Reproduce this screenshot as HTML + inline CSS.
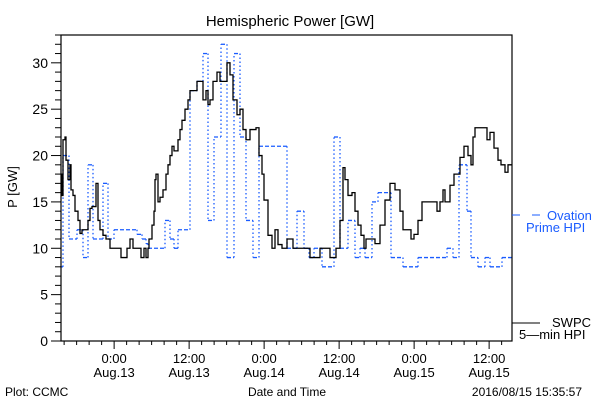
<!DOCTYPE html>
<html><head><meta charset="utf-8"><style>
body{margin:0;background:#fff;}
svg{display:block;font-family:"Liberation Sans",sans-serif;}
</style></head><body>
<svg id="chart" width="600" height="400" viewBox="0 0 600 400" xmlns="http://www.w3.org/2000/svg">
<rect width="600" height="400" fill="#fff"/>
<text x="290" y="26" font-size="15" text-anchor="middle" fill="#000">Hemispheric Power [GW]</text>
<g id="axes"></g>
<g id="series"></g>
<rect x="61" y="35" width="451" height="306" fill="none" stroke="#000" stroke-width="1.2"/>
<text transform="translate(17,187) rotate(-90)" font-size="13" text-anchor="middle">P [GW]</text>
<text x="287" y="396" font-size="12" text-anchor="middle">Date and Time</text>
<text x="5" y="396" font-size="12">Plot: CCMC</text>
<text x="582" y="396" font-size="12" text-anchor="end">2016/08/15 15:35:57</text>
<g>
<line x1="512" y1="215" x2="520" y2="215" stroke="#1a5cff" stroke-width="1"/>
<line x1="532" y1="215" x2="540" y2="215" stroke="#1a5cff" stroke-width="1"/>
<text x="547" y="220" font-size="13" fill="#1a5cff">Ovation</text>
<text x="526" y="232" font-size="13" fill="#1a5cff">Prime HPI</text>
</g>
<g>
<line x1="512" y1="323" x2="540" y2="323" stroke="#000" stroke-width="1"/>
<text x="552" y="327" font-size="13">SWPC</text>
<text x="519" y="339" font-size="13">5—min HPI</text>
</g>
</svg>
<script>
// hours since Aug 12 15:30
const swpcHours=[0,0.16,0.32,0.64,0.8,1.12,1.44,1.6,1.92,2.24,2.72,3.04,3.36,3.84,4.32,4.64,4.96,5.6,5.92,6.24,6.72,7.2,7.84,9.28,9.6,10.4,10.56,11.04,11.52,12.64,12.8,13.28,13.6,13.92,14.08,14.56,14.88,15.04,15.2,15.52,15.84,16.32,16.8,17.12,17.44,17.76,18.08,18.4,18.72,19.04,19.36,19.84,20.32,20.64,21.76,22.4,22.72,23.2,23.52,23.84,24.32,24.96,25.44,26.56,27.04,27.52,28.16,28.64,29.12,29.6,30.24,31.2,31.68,32.16,32.48,33.12,33.76,34.24,34.72,35.36,36.16,36.8,37.12,38.24,39.84,41.44,43.04,44,44.32,44.64,45.12,45.44,45.92,46.56,47.04,47.52,48,48.48,48.8,49.76,50.24,51.04,51.84,52.64,53.44,54.24,54.72,56,56.48,57.12,57.76,59.84,60.16,60.64,61.12,61.44,62.24,62.88,63.84,64.48,65.12,65.6,65.92,66.24,67.68,68.16,68.64,69.28,69.92,70.4,71.04,71.52,72.16];
const swpcValues=[18,15.7,21.7,22,19.5,17.4,19,16.3,15.7,14,13,11.6,12,12,13,14.3,14.5,17,13,12,11.4,11,10,10,9,9,10,11,10,10,9,10,9,10,11,12.5,14,17.4,18,15,15.5,16.3,18,19,20,21,20.5,20.5,21.7,22.8,23.8,25,26,27,28,28,26,27,25.5,26,28,29,28,30,28.7,26,24.4,25,22.8,21.7,22.8,23,20,18,15.2,11.4,10,12,10.4,10,11,11,10,10,9,10,9,10,10,13,18.7,17.4,15.7,16,14,12.5,11.4,10,11,11,10.5,12.5,15.2,17,16.3,14,12,11,11.5,13,15,15,14,15,16.3,15,16.8,18,19.8,21,20,19,22,23,23,21.7,22.5,20.8,19.5,19,18.2,19,19];
const ovationHours=[0,0.32,1.28,2.56,3.52,4.32,5.12,6.72,7.52,8.48,12.16,12.96,13.6,13.92,16.64,17.44,18.08,18.72,20.64,21.76,22.72,23.52,24.48,25.6,26.56,27.68,28.64,29.6,30.72,31.68,36.16,37.76,38.88,39.68,40.48,41.76,43.68,44.64,45.92,47.04,47.84,48.64,49.76,50.72,52.8,54.72,57.12,61.76,62.72,63.68,64.96,65.6,66.72,67.84,68.64,70.56];
const ovationValues=[8,20,11,12,9,19,11,17,11,12,11.5,11,10.5,10,13,11,10,12,27,28,31,13,22,32,9,31,22,13,9,21,10,14,10,9,10,8,22,10,13,9,10,9,15,16,9,8,9,10,9,19,14,9,8,9,8,9];
const yTickLabels=["0","5","10","15","20","25","30"];
const yTickValues=[0,5,10,15,20,25,30];
const xTickHours=[8.5,20.5,32.5,44.5,56.5,68.5];
const xTickTimes=["0:00","12:00","0:00","12:00","0:00","12:00"];
const xTickDates=["Aug.13","Aug.13","Aug.14","Aug.14","Aug.15","Aug.15"];
const END_H=72.16;

const NS="http://www.w3.org/2000/svg";
const X0=61,X1=512,Y0=341,YT=35,YMAX=33;
const xs=h=>X0+(X1-X0)*h/END_H;
const ys=v=>Y0-(Y0-YT)*v/YMAX;
function mk(tag,attrs,parent){const e=document.createElementNS(NS,tag);for(const k in attrs)e.setAttribute(k,attrs[k]);parent.appendChild(e);return e;}
const axes=document.getElementById('axes'),series=document.getElementById('series');

for(let v=0;v<=YMAX;v++){
  const major=v%5===0;
  const t=mk('line',{x1:X0-(major?10:6),x2:X0,y1:ys(v),y2:ys(v),stroke:'#000','stroke-width':1},axes);
  
  
}
yTickValues.forEach((v,i)=>{
  const t=mk('text',{x:48,y:ys(v)+5,'font-size':14,'text-anchor':'end'},axes);
  t.textContent=yTickLabels[i];
  
  
});
for(let h=0.5;h<END_H;h+=2){
  const major=xTickHours.some(m=>Math.abs(m-h)<0.01);
  const t=mk('line',{x1:xs(h),x2:xs(h),y1:Y0,y2:Y0+(major?8:4),stroke:'#000','stroke-width':1},axes);
  
  
}
xTickHours.forEach((h,i)=>{
  const a=mk('text',{x:xs(h),y:363,'font-size':13,'text-anchor':'middle'},axes);
  a.textContent=xTickTimes[i];
  
  
  const b=mk('text',{x:xs(h),y:377,'font-size':13,'text-anchor':'middle'},axes);
  b.textContent=xTickDates[i];
  
  
});

ovationHours.forEach((h,i)=>{
  const hEnd=i+1<ovationHours.length?ovationHours[i+1]:END_H;
  const hl=mk('line',{x1:xs(h),x2:xs(hEnd),y1:ys(ovationValues[i]),y2:ys(ovationValues[i]),stroke:'#1a5cff','stroke-width':1.3,'stroke-dasharray':'4 2'},series);
  
  
  if(i+1<ovationHours.length){
    const vl=mk('line',{x1:xs(hEnd),x2:xs(hEnd),y1:ys(ovationValues[i]),y2:ys(ovationValues[i+1]),stroke:'#1a5cff','stroke-width':1.3,'stroke-dasharray':'1.5 2.5'},series);
    
    
  }
});
let d='';
swpcHours.forEach((h,i)=>{
  if(i===0)d+=`M${xs(h)},${ys(swpcValues[i])}`;
  else d+=`H${xs(h)}V${ys(swpcValues[i])}`;
});
const p=mk('path',{d:d,fill:'none',stroke:'#000','stroke-width':1.3},series);


</script>
</body></html>
